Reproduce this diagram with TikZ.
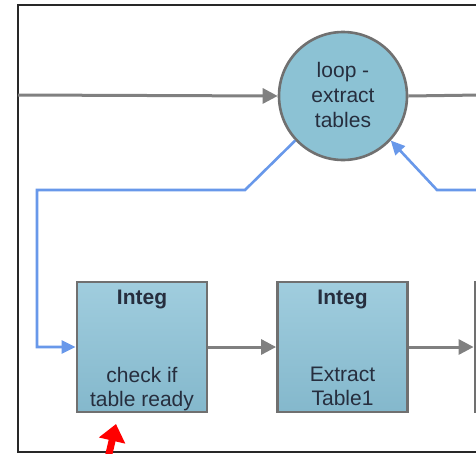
\documentclass[tikz,border=0pt]{standalone}
\usepackage{fontspec}
\setmainfont{Liberation Sans}
\usetikzlibrary{arrows.meta}
\definecolor{boxtop}{RGB}{160,205,222}
\definecolor{boxbot}{RGB}{132,184,204}
\definecolor{circfill}{RGB}{140,194,212}
\definecolor{edgegray}{RGB}{112,112,112}
\definecolor{flowgray}{RGB}{128,128,128}
\definecolor{loopblue}{RGB}{104,152,234}
\definecolor{txt}{RGB}{38,46,62}
\definecolor{framec}{RGB}{40,40,40}
\tikzset{
  framebox/.style={draw=framec, line width=2},
  stepbox/.style={draw=edgegray, line width=2.8, top color=boxtop, bottom color=boxbot,
    minimum width=130, minimum height=130, inner sep=0, rectangle},
  loopc/.style={draw=edgegray, line width=2.6, fill=circfill, circle, minimum size=128, inner sep=0},
  lbl/.style={text=txt, anchor=base, inner sep=0, font=\fontsize{21}{24}\selectfont},
  blbl/.style={lbl, font=\fontsize{21}{24}\selectfont\bfseries},
  flow/.style={draw=flowgray, line width=3, -{Triangle[length=15, width=15]}},
  flowplain/.style={draw=flowgray, line width=3},
  back/.style={draw=loopblue, line width=2.6, -{Triangle[length=14, width=13]}},
  marker/.style={draw=red, line width=7, -{Triangle[length=17, width=26]}},
}
\begin{document}
\begin{tikzpicture}[x=1pt, y=-1pt]
\useasboundingbox (0,0) rectangle (476,453);
\clip (0,0) rectangle (476,453);
\fill[white] (0,0) rectangle (476,453);
\draw[framebox] (18,5) rectangle (540,452);

% nodes
\node[loopc] (loop) at (343,96) {};
\node[lbl] (l1) at (343,77) {loop -};
\node[lbl] (l2) at (343,102) {extract};
\node[lbl] (l3) at (343,127) {tables};

\node[stepbox] (b1) at (142,347) {};
\node[blbl] (b1a) at (142,304) {Integ};
\node[lbl] (b1b) at (142,382) {check if};
\node[lbl] (b1c) at (142,406) {table ready};

\node[stepbox] (b2) at (342.5,347) {};
\node[blbl] (b2a) at (342.5,304) {Integ};
\node[lbl] (b2b) at (342.5,381) {Extract};
\node[lbl] (b2c) at (342.5,405) {Table1};

\node[stepbox] (b3) at (540,347) {};

% free ends
\coordinate (inL) at (18,95);
\coordinate (outR) at (480,95);
\coordinate (backR) at (480,190);

% gray flow
\draw[flow] (inL) -- (loop.west);
\draw[flowplain] (loop.east) -- (outR);
\draw[flow] (b1.east) -- (b2.west);
\draw[flow] (b2.east) -- (b3.west);

% blue loops
\draw[back] (loop.223) -- (245,190) -- (37,190) -- (37,347) -- (b1.west);
\draw[back] (backR) -- (437,190) -- (loop.-43);

% red marker
\coordinate (redtail) at (108,458);
\coordinate (redtip) at (116,424);
\draw[marker] (redtail) -- (redtip);
\end{tikzpicture}
\end{document}
